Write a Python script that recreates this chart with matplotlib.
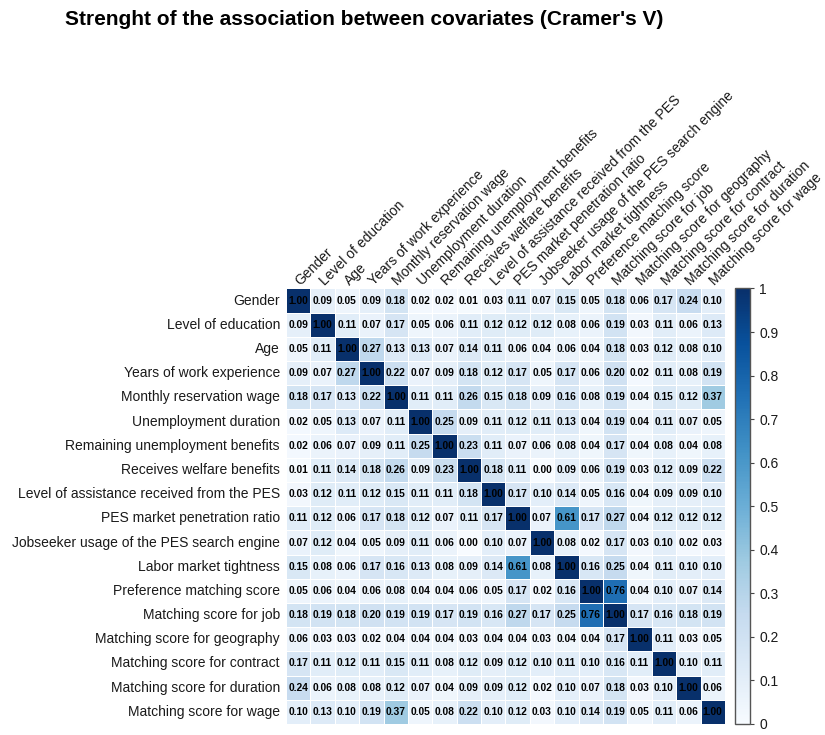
import numpy as np
import matplotlib
matplotlib.use("Agg")
import matplotlib.pyplot as plt
from matplotlib.colors import Normalize

plt.rcParams['font.family'] = ['Liberation Sans', 'DejaVu Sans']

variables = [
    "Gender",
    "Level of education",
    "Age",
    "Years of work experience",
    "Monthly reservation wage",
    "Unemployment duration",
    "Remaining unemployment benefits",
    "Receives welfare benefits",
    "Level of assistance received from the PES",
    "PES market penetration ratio",
    "Jobseeker usage of the PES search engine",
    "Labor market tightness",
    "Preference matching score",
    "Matching score for job",
    "Matching score for geography",
    "Matching score for contract",
    "Matching score for duration",
    "Matching score for wage",
]

# Cramer's V, one row per covariate
cramers_v = [
    [1.00, 0.09, 0.05, 0.09, 0.18, 0.02, 0.02, 0.01, 0.03, 0.11, 0.07, 0.15, 0.05, 0.18, 0.06, 0.17, 0.24, 0.10],
    [0.09, 1.00, 0.11, 0.07, 0.17, 0.05, 0.06, 0.11, 0.12, 0.12, 0.12, 0.08, 0.06, 0.19, 0.03, 0.11, 0.06, 0.13],
    [0.05, 0.11, 1.00, 0.27, 0.13, 0.13, 0.07, 0.14, 0.11, 0.06, 0.04, 0.06, 0.04, 0.18, 0.03, 0.12, 0.08, 0.10],
    [0.09, 0.07, 0.27, 1.00, 0.22, 0.07, 0.09, 0.18, 0.12, 0.17, 0.05, 0.17, 0.06, 0.20, 0.02, 0.11, 0.08, 0.19],
    [0.18, 0.17, 0.13, 0.22, 1.00, 0.11, 0.11, 0.26, 0.15, 0.18, 0.09, 0.16, 0.08, 0.19, 0.04, 0.15, 0.12, 0.37],
    [0.02, 0.05, 0.13, 0.07, 0.11, 1.00, 0.25, 0.09, 0.11, 0.12, 0.11, 0.13, 0.04, 0.19, 0.04, 0.11, 0.07, 0.05],
    [0.02, 0.06, 0.07, 0.09, 0.11, 0.25, 1.00, 0.23, 0.11, 0.07, 0.06, 0.08, 0.04, 0.17, 0.04, 0.08, 0.04, 0.08],
    [0.01, 0.11, 0.14, 0.18, 0.26, 0.09, 0.23, 1.00, 0.18, 0.11, 0.00, 0.09, 0.06, 0.19, 0.03, 0.12, 0.09, 0.22],
    [0.03, 0.12, 0.11, 0.12, 0.15, 0.11, 0.11, 0.18, 1.00, 0.17, 0.10, 0.14, 0.05, 0.16, 0.04, 0.09, 0.09, 0.10],
    [0.11, 0.12, 0.06, 0.17, 0.18, 0.12, 0.07, 0.11, 0.17, 1.00, 0.07, 0.61, 0.17, 0.27, 0.04, 0.12, 0.12, 0.12],
    [0.07, 0.12, 0.04, 0.05, 0.09, 0.11, 0.06, 0.00, 0.10, 0.07, 1.00, 0.08, 0.02, 0.17, 0.03, 0.10, 0.02, 0.03],
    [0.15, 0.08, 0.06, 0.17, 0.16, 0.13, 0.08, 0.09, 0.14, 0.61, 0.08, 1.00, 0.16, 0.25, 0.04, 0.11, 0.10, 0.10],
    [0.05, 0.06, 0.04, 0.06, 0.08, 0.04, 0.04, 0.06, 0.05, 0.17, 0.02, 0.16, 1.00, 0.76, 0.04, 0.10, 0.07, 0.14],
    [0.18, 0.19, 0.18, 0.20, 0.19, 0.19, 0.17, 0.19, 0.16, 0.27, 0.17, 0.25, 0.76, 1.00, 0.17, 0.16, 0.18, 0.19],
    [0.06, 0.03, 0.03, 0.02, 0.04, 0.04, 0.04, 0.03, 0.04, 0.04, 0.03, 0.04, 0.04, 0.17, 1.00, 0.11, 0.03, 0.05],
    [0.17, 0.11, 0.12, 0.11, 0.15, 0.11, 0.08, 0.12, 0.09, 0.12, 0.10, 0.11, 0.10, 0.16, 0.11, 1.00, 0.10, 0.11],
    [0.24, 0.06, 0.08, 0.08, 0.12, 0.07, 0.04, 0.09, 0.09, 0.12, 0.02, 0.10, 0.07, 0.18, 0.03, 0.10, 1.00, 0.06],
    [0.10, 0.13, 0.10, 0.19, 0.37, 0.05, 0.08, 0.22, 0.10, 0.12, 0.03, 0.10, 0.14, 0.19, 0.05, 0.11, 0.06, 1.00],
]

colorbar_ticks = [0, 0.1, 0.2, 0.3, 0.4, 0.5, 0.6, 0.7, 0.8, 0.9, 1]
colorbar_labels = ["0", "0.1", "0.2", "0.3", "0.4", "0.5", "0.6", "0.7", "0.8", "0.9", "1"]

mat = np.array(cramers_v)
n = len(variables)

fig = plt.figure(figsize=(8.25, 7.35), dpi=100)
ax = fig.add_axes([0.3467, 0.015, 0.532, 0.5925])
cax = fig.add_axes([0.8909, 0.015, 0.0182, 0.5925])

norm = Normalize(vmin=0, vmax=1)
cmap = plt.get_cmap("Blues")

mesh = ax.pcolormesh(np.arange(n + 1), np.arange(n + 1), mat, cmap=cmap, norm=norm,
                     edgecolors="white", linewidth=0.6)
ax.set_xlim(0, n)
ax.set_ylim(n, 0)

for i in range(n):
    for j in range(n):
        ax.text(j + 0.5, i + 0.5, f"{mat[i, j]:.2f}", ha="center", va="center",
                fontsize=7.4, fontweight="bold", color="black")

ax.set_xticks([])
ax.set_yticks([])
for s in ax.spines.values():
    s.set_visible(False)

# Row labels on the left
for i, name in enumerate(variables):
    ax.text(-0.25, i + 0.5, name, ha="right", va="center", fontsize=10, color="#1a1a1a")

# Column labels rotated above the matrix
for j, name in enumerate(variables):
    ax.text(j + 0.6, -0.12, name, ha="left", va="baseline", rotation=45,
            rotation_mode="anchor", fontsize=10, color="#1a1a1a")

cb = fig.colorbar(mesh, cax=cax, ticks=colorbar_ticks)
cb.ax.set_yticklabels(colorbar_labels)
cb.ax.tick_params(labelsize=10, length=3, width=0.8, color="#444444", labelcolor="#1a1a1a")
cb.outline.set_edgecolor("#555555")
cb.outline.set_linewidth(1.0)

fig.text(0.079, 0.974, "Strenght of the association between covariates (Cramer's V)",
         ha="left", va="center", fontsize=15, fontweight="bold", color="black")

fig.savefig("out.png", dpi=100)
